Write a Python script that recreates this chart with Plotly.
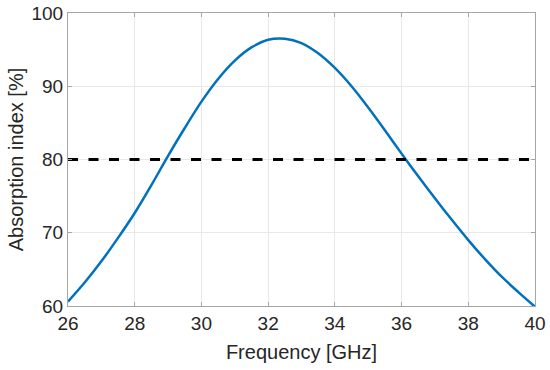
import plotly.graph_objects as go

freq = [26, 26.5, 27, 27.5, 28, 28.5, 29, 29.5, 30, 30.5, 31, 31.5, 32, 32.5, 33,
        33.5, 34, 34.5, 35, 35.5, 36, 36.5, 37, 37.5, 38, 38.5, 39, 39.5, 40]
absorption = [60.6, 63.2, 66.1, 69.3, 72.7, 76.5, 80.5, 84.3, 87.9, 91.0, 93.5, 95.3,
              96.35, 96.5, 95.9, 94.5, 92.5, 90.0, 87.1, 84.0, 80.8, 77.7, 74.7, 71.8,
              69.0, 66.4, 64.0, 61.9, 59.9]
threshold_x = [26, 40]
threshold_y = [80, 80]
xticks = [26, 28, 30, 32, 34, 36, 38, 40]
yticks = [60, 70, 80, 90, 100]

fig = go.Figure()
fig.add_trace(go.Scatter(x=freq, y=absorption, mode="lines",
                         line=dict(color="#0072BD", width=2.5, shape="spline", smoothing=0.8),
                         showlegend=False))
fig.add_trace(go.Scatter(x=threshold_x, y=threshold_y, mode="lines",
                         line=dict(color="black", width=2.8, dash="10px,10.5px"),
                         showlegend=False))

font = "Liberation Sans, Arial, sans-serif"
axis_common = dict(showline=True, linecolor="#a6a6a6", linewidth=1, mirror="ticks",
                   ticks="inside", ticklen=4, tickcolor="#a6a6a6",
                   showgrid=True, gridcolor="#e8e8e8", gridwidth=1, zeroline=False,
                   automargin=False,
                   tickfont=dict(family=font, size=19, color="#262626"),
                   title_font=dict(family=font, size=20, color="#262626"))

fig.update_layout(
    width=550, height=370,
    margin=dict(l=68, r=15, t=13, b=64, pad=0),
    paper_bgcolor="white", plot_bgcolor="white",
    xaxis=dict(range=[26, 40], tickvals=xticks, title=dict(text="Frequency [GHz]", standoff=12),
               **axis_common),
    yaxis=dict(range=[60, 100], tickvals=yticks, title=dict(text="Absorption index [%]", standoff=2),
               **axis_common),
)
fig.write_html("out.html", config={"displayModeBar": False},
               post_script="document.body.style.margin='0';document.body.style.overflow='hidden';")
